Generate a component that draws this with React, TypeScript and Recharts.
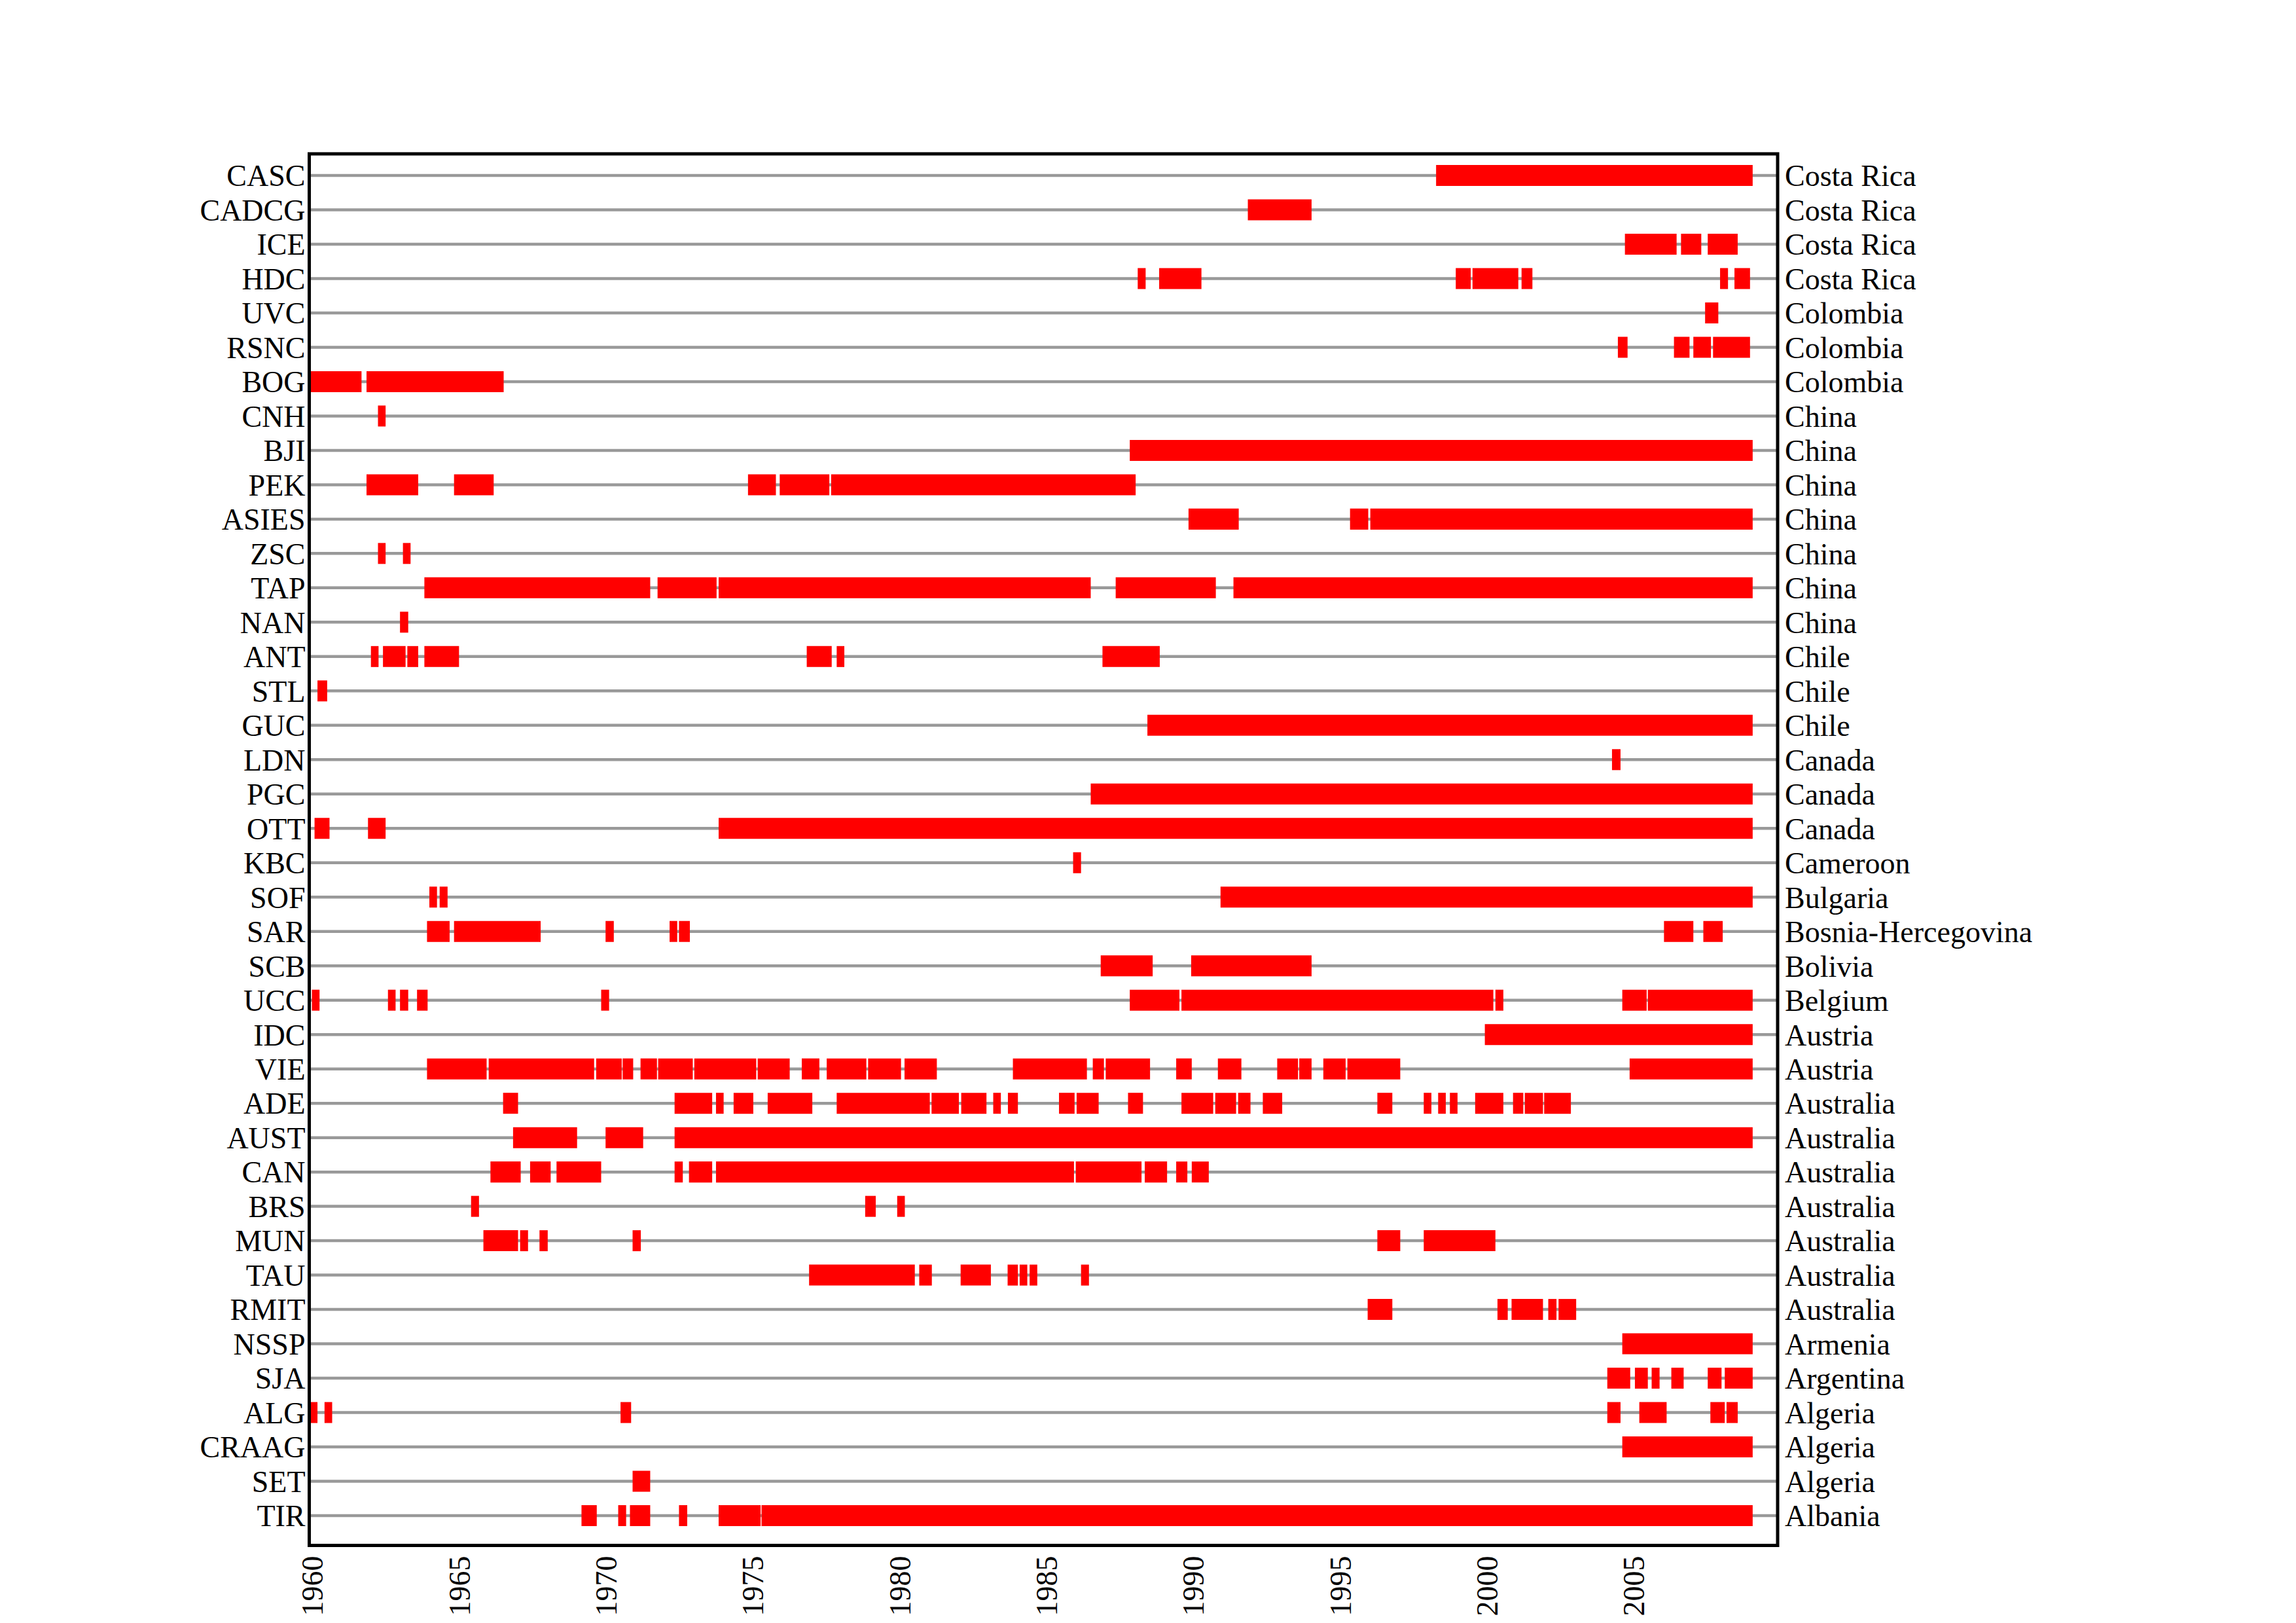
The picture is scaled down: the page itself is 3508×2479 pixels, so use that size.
import React from "react";
import { ComposedChart, XAxis, YAxis, ReferenceLine, ReferenceArea } from "recharts";

// station codes, top row first
const stations = [
  "CASC", "CADCG", "ICE", "HDC", "UVC", "RSNC", "BOG", "CNH", "BJI", "PEK",
  "ASIES", "ZSC", "TAP", "NAN", "ANT", "STL", "GUC", "LDN", "PGC", "OTT",
  "KBC", "SOF", "SAR", "SCB", "UCC", "IDC", "VIE", "ADE", "AUST", "CAN",
  "BRS", "MUN", "TAU", "RMIT", "NSSP", "SJA", "ALG", "CRAAG", "SET", "TIR",
];

const countries = [
  "Costa Rica", "Costa Rica", "Costa Rica", "Costa Rica", "Colombia", "Colombia", "Colombia",
  "China", "China", "China", "China", "China", "China", "China",
  "Chile", "Chile", "Chile", "Canada", "Canada", "Canada", "Cameroon", "Bulgaria",
  "Bosnia-Hercegovina", "Bolivia", "Belgium", "Austria", "Austria",
  "Australia", "Australia", "Australia", "Australia", "Australia", "Australia", "Australia",
  "Armenia", "Argentina", "Algeria", "Algeria", "Algeria", "Albania",
];

const yearTicks = [1960, 1965, 1970, 1975, 1980, 1985, 1990, 1995, 2000, 2005];

// operating periods [start, end] in decimal years
const CASC = [[1998.37, 2009.15]];
const CADCG = [[1991.96, 1994.13]];
const ICE = [[2004.8, 2006.56], [2006.71, 2007.4], [2007.62, 2008.64]];
const HDC = [[1988.21, 1988.48], [1988.94, 1990.38], [1999.04, 1999.55], [1999.61, 2001.17], [2001.28, 2001.65], [2008.04, 2008.31], [2008.53, 2009.06]];
const UVC = [[2007.53, 2007.98]];
const RSNC = [[2004.56, 2004.89], [2006.47, 2007.0], [2007.13, 2007.73], [2007.8, 2009.06]];
const BOG = [[1960.03, 1961.78], [1961.95, 1966.62]];
const CNH = [[1962.34, 1962.6]];
const BJI = [[1987.94, 2009.15]];
const PEK = [[1961.95, 1963.71], [1964.93, 1966.28], [1974.94, 1975.89], [1976.02, 1977.71], [1977.77, 1988.14]];
const ASIES = [[1989.94, 1991.65], [1995.44, 1996.06], [1996.13, 2009.15]];
const ZSC = [[1962.34, 1962.6], [1963.19, 1963.45]];
const TAP = [[1963.92, 1971.61], [1971.86, 1973.87], [1973.94, 1986.61], [1987.46, 1990.87], [1991.47, 2009.15]];
const NAN = [[1963.09, 1963.37]];
const ANT = [[1962.1, 1962.36], [1962.51, 1963.28], [1963.34, 1963.71], [1963.92, 1965.1], [1976.94, 1977.79], [1977.96, 1978.22], [1987.01, 1988.96]];
const STL = [[1960.28, 1960.61]];
const GUC = [[1988.54, 2009.15]];
const LDN = [[2004.36, 2004.65]];
const PGC = [[1986.61, 2009.15]];
const OTT = [[1960.18, 1960.69], [1962.0, 1962.6], [1973.94, 2009.15]];
const KBC = [[1986.01, 1986.28]];
const SOF = [[1964.09, 1964.35], [1964.44, 1964.71], [1991.03, 2009.15]];
const SAR = [[1964.01, 1964.78], [1964.93, 1967.88], [1970.09, 1970.37], [1972.27, 1972.53], [1972.59, 1972.96], [2006.13, 2007.13], [2007.47, 2008.13]];
const SCB = [[1986.95, 1988.72], [1990.03, 1994.13]];
const UCC = [[1960.09, 1960.35], [1962.68, 1962.94], [1963.09, 1963.37], [1963.67, 1964.03], [1969.94, 1970.21], [1987.94, 1989.63], [1989.7, 2000.32], [2000.39, 2000.66], [2004.71, 2005.54], [2005.58, 2009.15]];
const IDC = [[2000.03, 2009.15]];
const VIE = [
  [1964.01, 1966.04], [1966.11, 1969.7], [1969.77, 1970.64], [1970.67, 1971.03], [1971.28, 1971.84],
  [1971.88, 1973.06], [1973.11, 1975.22], [1975.27, 1976.36], [1976.77, 1977.37], [1977.62, 1978.97],
  [1979.03, 1980.15], [1980.27, 1981.37], [1983.96, 1986.48], [1986.68, 1987.06], [1987.12, 1988.63],
  [1989.52, 1990.05], [1990.94, 1991.74], [1992.96, 1993.67], [1993.71, 1994.13], [1994.53, 1995.29],
  [1995.35, 1997.15], [2004.96, 2009.15],
];
const ADE = [
  [1966.6, 1967.11], [1972.44, 1973.72], [1973.85, 1974.11], [1974.45, 1975.12], [1975.61, 1977.13],
  [1977.96, 1981.13], [1981.19, 1982.12], [1982.2, 1983.06], [1983.29, 1983.55], [1983.79, 1984.13],
  [1985.53, 1986.06], [1986.13, 1986.88], [1987.88, 1988.39], [1989.7, 1990.78], [1990.85, 1991.56],
  [1991.63, 1992.05], [1992.47, 1993.13], [1996.37, 1996.88], [1997.95, 1998.21], [1998.44, 1998.7],
  [1998.84, 1999.1], [1999.7, 2000.66], [2000.99, 2001.34], [2001.39, 2002.01], [2002.05, 2002.96],
];
const AUST = [[1966.94, 1969.12], [1970.09, 1971.37], [1972.44, 2009.15]];
const CAN = [[1966.17, 1967.2], [1967.52, 1968.22], [1968.42, 1969.94], [1972.44, 1972.72], [1972.93, 1973.72], [1973.85, 1986.04], [1986.1, 1988.34], [1988.45, 1989.21], [1989.52, 1989.9], [1990.05, 1990.63]];
const BRS = [[1965.51, 1965.78], [1978.93, 1979.29], [1980.02, 1980.28]];
const MUN = [[1965.93, 1967.11], [1967.18, 1967.45], [1967.84, 1968.12], [1971.01, 1971.29], [1996.37, 1997.15], [1997.95, 2000.39]];
const TAU = [[1977.02, 1980.62], [1980.77, 1981.2], [1982.18, 1983.21], [1983.78, 1984.13], [1984.19, 1984.45], [1984.53, 1984.79], [1986.28, 1986.55]];
const RMIT = [[1996.04, 1996.88], [2000.46, 2000.81], [2000.94, 2002.01], [2002.19, 2002.47], [2002.54, 2003.14]];
const NSSP = [[2004.71, 2009.15]];
const SJA = [[2004.2, 2004.98], [2005.14, 2005.58], [2005.71, 2005.98], [2006.38, 2006.8], [2007.62, 2008.09], [2008.2, 2009.15]];
const ALG = [[1960.03, 1960.28], [1960.52, 1960.78], [1970.6, 1970.96], [2004.2, 2004.65], [2005.29, 2006.22], [2007.71, 2008.2], [2008.26, 2008.64]];
const CRAAG = [[2004.71, 2009.15]];
const SET = [[1971.01, 1971.61]];
const TIR = [[1969.27, 1969.79], [1970.52, 1970.79], [1970.92, 1971.61], [1972.59, 1972.87], [1973.94, 1975.37], [1975.4, 2009.15]];

const periods = [
  CASC, CADCG, ICE, HDC, UVC, RSNC, BOG, CNH, BJI, PEK,
  ASIES, ZSC, TAP, NAN, ANT, STL, GUC, LDN, PGC, OTT,
  KBC, SOF, SAR, SCB, UCC, IDC, VIE, ADE, AUST, CAN,
  BRS, MUN, TAU, RMIT, NSSP, SJA, ALG, CRAAG, SET, TIR,
];

const FONT = "'Liberation Serif', 'Times New Roman', serif";
const N = stations.length;
const Y_DOMAIN: [number, number] = [-0.867, N - 1 + 0.629];
const HALF = 0.305;

// row index -> axis value (top row gets the largest value)
const rowValues = stations.map((_, i) => N - 1 - i);
const segments = periods.flatMap((segs, i) =>
  segs.map(([start, end], k) => ({ key: `${stations[i]}-${k}`, row: N - 1 - i, start, end }))
);

const YearTick = ({ x, y, payload }: any) => (
  <text
    x={x}
    y={y}
    dy="0.45em"
    transform={`rotate(-90, ${x}, ${y})`}
    textAnchor="end"
    fontFamily={FONT}
    fontSize={46}
    fill="#000"
  >
    {payload.value}
  </text>
);

const tickStyle = { fontFamily: FONT, fontSize: 46, fill: "#000" };

export default function App() {
  return (
    <div style={{ position: "absolute", left: 0, top: 0, width: 3508, height: 2479, background: "#fff" }}>
      <ComposedChart width={3508} height={2479} margin={{ top: 235, right: 192, bottom: 8.5, left: 172.5 }}>
        <XAxis
          type="number"
          dataKey="x"
          domain={[1960, 2010]}
          ticks={yearTicks}
          interval={0}
          tick={<YearTick />}
          tickLine={false}
          axisLine={false}
          tickSize={0}
          tickMargin={16}
          height={110}
          allowDataOverflow
        />
        <YAxis
          yAxisId="left"
          type="number"
          domain={Y_DOMAIN}
          ticks={rowValues}
          interval={0}
          tickFormatter={(v: number) => stations[N - 1 - v]}
          tick={tickStyle}
          tickLine={false}
          axisLine={false}
          tickSize={0}
          tickMargin={6}
          width={300}
          allowDataOverflow
        />
        <YAxis
          yAxisId="right"
          orientation="right"
          type="number"
          domain={Y_DOMAIN}
          ticks={rowValues}
          interval={0}
          tickFormatter={(v: number) => countries[N - 1 - v]}
          tick={{ ...tickStyle, textAnchor: "start" }}
          tickLine={false}
          axisLine={false}
          tickSize={0}
          tickMargin={11}
          width={600}
          allowDataOverflow
        />
        {rowValues.map((v) => (
          <ReferenceLine key={`row-${v}`} yAxisId="left" y={v} stroke="#999999" strokeWidth={4.5} zIndex={50} />
        ))}
        {segments.map((s) => (
          <ReferenceArea
            key={s.key}
            yAxisId="left"
            x1={s.start}
            x2={s.end}
            y1={s.row - HALF}
            y2={s.row + HALF}
            fill="#ff0000"
            fillOpacity={1}
            stroke="none"
            zIndex={150}
          />
        ))}
        <ReferenceArea
          yAxisId="left"
          x1={1960}
          x2={2010}
          y1={Y_DOMAIN[0]}
          y2={Y_DOMAIN[1]}
          fill="none"
          stroke="#000"
          strokeWidth={5}
          zIndex={200}
        />
      </ComposedChart>
    </div>
  );
}
